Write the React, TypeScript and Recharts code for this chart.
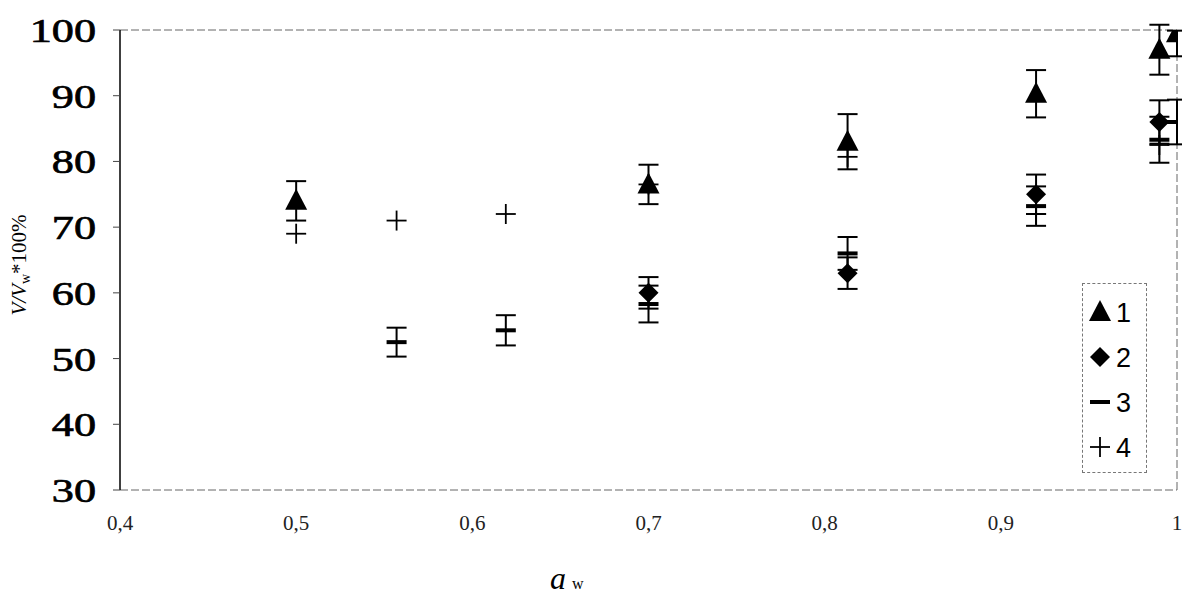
import React from "react";
import {
  ScatterChart,
  Scatter,
  XAxis,
  YAxis,
  ErrorBar,
  ReferenceLine,
} from "recharts";

// series 1 (triangles)
const x1 = [0.5, 0.7, 0.813, 0.92, 0.99, 1.0];
const y1 = [74, 76.5, 83, 90.3, 97, 99.5];
const e1: (number | number[])[] = [3, 3, 4.2, 3.6, 3.8, [3.5, 0.4]];

// series 2 (diamonds)
const x2 = [0.7, 0.813, 0.92, 0.99];
const y2 = [60, 63, 75, 86];
const e2 = [2.4, 2.4, 3, 3.3];

// series 3 (dashes)
const x3 = [0.557, 0.619, 0.7, 0.813, 0.92, 0.99, 1.0];
const y3 = [52.5, 54.3, 58.3, 66, 73.2, 83.3, 86];
const e3 = [2.2, 2.3, 2.8, 2.5, 3, 3.5, 3.4];

// series 4 (plus)
const x4 = [0.5, 0.557, 0.619, 0.7, 0.813, 0.92, 0.99];
const y4 = [69, 71, 72, 76.5, 80.7, 72, 82.5];

const xTicks = [0.4, 0.5, 0.6, 0.7, 0.8, 0.9, 1];
const yTicks = [30, 40, 50, 60, 70, 80, 90, 100];

const zip = (xs: number[], ys: number[], es?: (number | number[])[]) =>
  xs.map((x, i) => ({ x, y: ys[i], err: es ? es[i] : 0 }));

const d1 = zip(x1, y1, e1);
const d2 = zip(x2, y2, e2);
const d3 = zip(x3, y3, e3);
const d4 = zip(x4, y4);

const Triangle = ({ cx, cy }: any) => (
  <path d={`M${cx},${cy - 12} L${cx + 11},${cy + 9} L${cx - 11},${cy + 9} Z`} fill="#000" />
);
const Diamond = ({ cx, cy }: any) => (
  <path d={`M${cx},${cy - 10} L${cx + 10},${cy} L${cx},${cy + 10} L${cx - 10},${cy} Z`} fill="#000" />
);
const Dash = ({ cx, cy }: any) => (
  <rect x={cx - 10} y={cy - 2} width={20} height={4} fill="#000" />
);
const Plus = ({ cx, cy }: any) => (
  <g stroke="#000" strokeWidth={1.8}>
    <line x1={cx - 10} y1={cy} x2={cx + 10} y2={cy} />
    <line x1={cx} y1={cy - 10} x2={cx} y2={cy + 10} />
  </g>
);

const legendItems = [
  { label: "1", Shape: Triangle },
  { label: "2", Shape: Diamond },
  { label: "3", Shape: Dash },
  { label: "4", Shape: Plus },
];

const LegendBox = () => (
  <div
    style={{
      position: "absolute",
      left: 1082,
      top: 283,
      width: 65,
      height: 190,
      border: "1px dashed #777",
      boxSizing: "border-box",
      background: "#fff",
    }}
  >
    <svg width={63} height={188} style={{ display: "block" }}>
      {legendItems.map((it, i) => {
        const cy = 28 + i * 45;
        return (
          <g key={it.label}>
            <it.Shape cx={17} cy={cy} />
            <text
              x={33}
              y={cy + 10}
              fontFamily="Liberation Sans, Arial"
              fontSize={27}
              fill="#000"
            >
              {it.label}
            </text>
          </g>
        );
      })}
    </svg>
  </div>
);

const fmtX = (v: number) => (v === 1 ? "1" : v.toFixed(1).replace(".", ","));

const XTick = ({ x, y, payload }: any) => (
  <text
    x={x}
    y={y + 32}
    textAnchor="middle"
    fontFamily="Liberation Serif"
    fontSize={21}
    fill="#222"
  >
    {fmtX(payload.value)}
  </text>
);

const YTick = ({ y, payload }: any) => (
  <text
    transform={`translate(96,${y + 12}) scale(1.3,1)`}
    textAnchor="end"
    fontFamily="Liberation Serif"
    fontSize={34}
    fill="#000"
    stroke="#000"
    strokeWidth={0.7}
  >
    {payload.value}
  </text>
);

const YTitle = () => (
  <text
    transform="translate(26,265) rotate(-90)"
    textAnchor="middle"
    fontFamily="Liberation Serif"
    fontSize={21}
    fill="#000"
  >
    <tspan fontStyle="italic">V/V</tspan>
    <tspan fontSize={14} dy={4}>w</tspan>
    <tspan dy={-4}>*100%</tspan>
  </text>
);

export default function App() {
  return (
    <div style={{ position: "absolute", left: 0, top: 0, width: 1182, height: 597, background: "#fff" }}>
      <ScatterChart
        width={1182}
        height={597}
        margin={{ top: 30, right: 5, left: 0, bottom: 0 }}
      >
        <XAxis
          type="number"
          dataKey="x"
          domain={[0.4, 1]}
          ticks={xTicks}
          allowDataOverflow
          height={107}
          tickLine={false}
          axisLine={{ stroke: "#666", strokeDasharray: "8 3" }}
          tick={<XTick />}
        />
        <YAxis
          type="number"
          dataKey="y"
          domain={[30, 100]}
          ticks={yTicks}
          allowDataOverflow
          width={120}
          tickSize={7}
          axisLine={{ stroke: "#000", strokeWidth: 1.5 }}
          tickLine={{ stroke: "#444" }}
          tick={<YTick />}
          label={<YTitle />}
        />
        <ReferenceLine y={100} stroke="#666" strokeDasharray="8 3" />
        <ReferenceLine x={1} stroke="#666" strokeDasharray="8 3" />
        <Scatter name="1" data={d1} shape={<Triangle />} isAnimationActive={false}>
          <ErrorBar dataKey="err" direction="y" width={10} stroke="#000" strokeWidth={2} />
        </Scatter>
        <Scatter name="2" data={d2} shape={<Diamond />} isAnimationActive={false}>
          <ErrorBar dataKey="err" direction="y" width={10} stroke="#000" strokeWidth={2} />
        </Scatter>
        <Scatter name="3" data={d3} shape={<Dash />} isAnimationActive={false}>
          <ErrorBar dataKey="err" direction="y" width={10} stroke="#000" strokeWidth={2} />
        </Scatter>
        <Scatter name="4" data={d4} shape={<Plus />} isAnimationActive={false} />
        <text x={550} y={589} fontFamily="Liberation Serif" fill="#000">
          <tspan fontStyle="italic" fontSize={32}>a</tspan>
          <tspan fontSize={16} dx={6}>w</tspan>
        </text>
      </ScatterChart>
      <LegendBox />
    </div>
  );
}
